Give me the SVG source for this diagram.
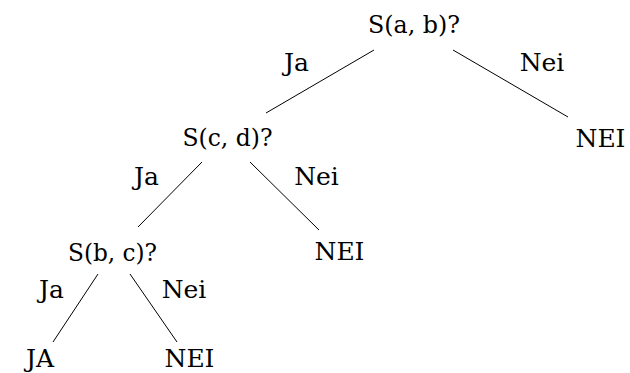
<svg xmlns="http://www.w3.org/2000/svg" width="630" height="373" viewBox="0 0 630 373">
<style>
text{font-family:"DejaVu Serif","Liberation Serif",serif;font-size:25px;fill:#000;text-anchor:middle}
line{stroke:#000;stroke-width:1}
</style>
<rect width="630" height="373" fill="#fff"/>
<g id="connectors">
<line x1="374" y1="50" x2="266" y2="113"/>
<line x1="453" y1="50" x2="568" y2="117"/>
<line x1="202" y1="162" x2="138" y2="227"/>
<line x1="250" y1="162" x2="319" y2="230"/>
<line x1="98" y1="274" x2="53" y2="342"/>
<line x1="130" y1="274" x2="177" y2="342"/>
</g>
<g id="labels">
<text x="296.5" y="71">Ja</text>
<text x="542" y="71">Nei</text>
<text x="146.5" y="185">Ja</text>
<text x="316.5" y="185">Nei</text>
<text x="51.5" y="298">Ja</text>
<text x="184" y="298">Nei</text>
</g>
<g id="n1"><text x="414" y="33" textLength="92" lengthAdjust="spacingAndGlyphs">S(a, b)?</text></g>
<g id="n2"><text x="227.5" y="146" textLength="90" lengthAdjust="spacingAndGlyphs">S(c, d)?</text></g>
<g id="n3"><text x="600.5" y="147">NEI</text></g>
<g id="n4"><text x="112.5" y="261" textLength="89" lengthAdjust="spacingAndGlyphs">S(b, c)?</text></g>
<g id="n5"><text x="339.5" y="260">NEI</text></g>
<g id="n6"><text x="40" y="367">JA</text></g>
<g id="n7"><text x="189.5" y="367">NEI</text></g>
</svg>
